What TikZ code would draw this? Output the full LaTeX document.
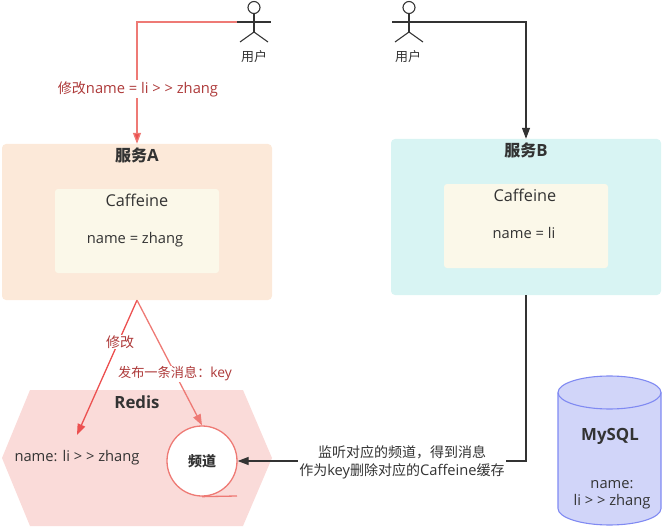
\documentclass[tikz,border=0pt]{standalone}
\usepackage{fontspec}
\setmainfont[Scale=1.05]{Open Sans}
\newfontfamily\cjk{Noto Sans CJK SC}
\usetikzlibrary{arrows.meta,shapes.geometric}
\definecolor{ink}{HTML}{333333}
\definecolor{redln}{HTML}{EE7A75}
\definecolor{redar}{HTML}{EC5050}
\definecolor{redtx}{HTML}{AE3A3A}
\definecolor{orangebg}{HTML}{FCE9D9}
\definecolor{tealbg}{HTML}{D8F4F3}
\definecolor{creambg}{HTML}{FBF8E9}
\definecolor{redisbg}{HTML}{FADBD9}
\definecolor{dbbg}{HTML}{D1D5F9}
\definecolor{dbln}{HTML}{808AF2}
\tikzset{
  x=1pt,y=-1pt,
  panel/.style={rounded corners=4pt,draw=none,minimum width=270pt,minimum height=156pt,inner sep=0pt},
  inner panel/.style={rounded corners=3pt,draw=none,fill=creambg,minimum width=164pt,minimum height=84pt,inner sep=0pt},
  txt/.style={font=\fontsize{14}{16}\selectfont,text=ink,inner sep=0pt,align=center},
  title/.style={font=\bfseries\fontsize{16}{19}\selectfont,text=ink,inner sep=0pt,align=center},
  reduser/.style={line width=1.3pt,draw=redln},
  redstrong/.style={line width=1.3pt,draw=redar},
  elabel/.style={font=\fontsize{14}{16}\selectfont,text=redtx,fill=white,inner sep=1pt,align=center},
  darkline/.style={line width=1.2pt,draw=ink},
  redtip/.style={-{Triangle[length=11pt,width=8pt,fill=redar]}},
  pinktip/.style={-{Triangle[length=11pt,width=8pt,fill=redln]}},
  darktip/.style={-{Triangle[length=11pt,width=8pt,fill=ink]}},
  actorline/.style={line width=1.1pt,draw=ink},
}
\begin{document}
\begin{tikzpicture}
\useasboundingbox (0,0) rectangle (665,527);
% panels
\node[panel,fill=orangebg] (svcA) at (137,222) {};
\node[panel,fill=tealbg] (svcB) at (526,217) {};
\node[inner panel] (cafA) at (137,231) {};
\node[inner panel] (cafB) at (526,226) {};
\node[title] (svcAt) at (137,155.5) {{\cjk 服务}A};
\node[title] (svcBt) at (526,150.5) {{\cjk 服务}B};
\node[txt,font=\fontsize{15.5}{18}\selectfont] (cafAt) at (137,200) {Caffeine};
\node[txt,font=\fontsize{15.5}{18}\selectfont] (cafBt) at (525,195) {Caffeine};
\node[txt] (nameA) at (135,239.5) {name = zhang};
\node[txt] (nameB) at (524,232.5) {name = li};
% redis
\fill[redisbg] (2,458) -- (30,390) -- (243,390) -- (272,458) -- (243,526) -- (30,526) -- cycle;
\node[title] (redist) at (137,402) {Redis};
\node[txt] (redisv) at (77,457.5) {name: li > > zhang};
% channel
\node[circle,draw=redln,line width=1.3pt,fill=white,minimum size=70pt,inner sep=0pt,font=\cjk\bfseries\fontsize{14}{16}\selectfont,text=ink] (chan) at (202,461) {频道};
\coordinate (chanfoot) at (237,496);
\draw[redln,line width=1.3pt] (chan.south) -- (chanfoot);
% mysql
\draw[dbln,line width=1.1pt,fill=dbbg] (558,392.5)
  .. controls (558,383.39) and (581.06,376) .. (609.5,376)
  .. controls (637.94,376) and (661,383.39) .. (661,392.5)
  -- (661,508.5)
  .. controls (661,517.61) and (637.94,525) .. (609.5,525)
  .. controls (581.06,525) and (558,517.61) .. (558,508.5) -- cycle;
\draw[dbln,line width=1.1pt] (558,392.5)
  .. controls (558,401.61) and (581.06,409) .. (609.5,409)
  .. controls (637.94,409) and (661,401.61) .. (661,392.5);
\node[title] (dbt) at (610,436) {MySQL};
\node[txt,font=\fontsize{14}{17}\selectfont] (dbv) at (612,494.5) {name:\\li > > zhang};
% actors
\coordinate (ua) at (237,22);
\coordinate (ub) at (426,22);
\foreach \cx/\nm in {254/a,409/b}{
  \draw[actorline] (\cx,7.5) circle[radius=6];
  \draw[actorline] (\cx-17,22) -- (\cx+17,22);
  \draw[actorline] (\cx,13.5) -- (\cx,32);
  \draw[actorline] (\cx-14,42) -- (\cx,32) -- (\cx+14,42);
}
\node[font=\cjk\fontsize{13}{15}\selectfont,text=ink,inner sep=0pt] (la) at (254,57) {用户};
\node[font=\cjk\fontsize{13}{15}\selectfont,text=ink,inner sep=0pt] (lb) at (408,57) {用户};
% connectors
\coordinate (ca) at (137,22);
\coordinate (cb) at (526,22);
\coordinate (tv) at (77,435);
\coordinate (bcorner) at (526,461);
\draw[reduser,redtip] (ua) -- (ca) -- (svcA.north -| ca);
\draw[darkline,darktip] (ub) -- (cb) -- (svcB.north);
\draw[redstrong,redtip] (svcA.south) -- (tv);
\draw[reduser,pinktip] (svcA.south) -- (chan.north);
\draw[darkline,darktip] (svcB.south) -- (bcorner) -- (chan.east);
% labels
\node[elabel] (l1) at (138,89) {{\cjk 修改}name = li > > zhang};
\node[elabel] (l2) at (120,342) {{\cjk 修改}};
\node[elabel,font=\fontsize{13.2}{16}\selectfont] (l3) at (175,374) {{\cjk 发布一条消息：}key};
\node[txt,fill=white,inner sep=1pt,font=\fontsize{14}{18}\selectfont] (l4) at (402,462) {{\cjk 监听对应的频道，得到消息}\\{\cjk 作为}key{\cjk 删除对应的}Caffeine{\cjk 缓存}};
\end{tikzpicture}
\end{document}
